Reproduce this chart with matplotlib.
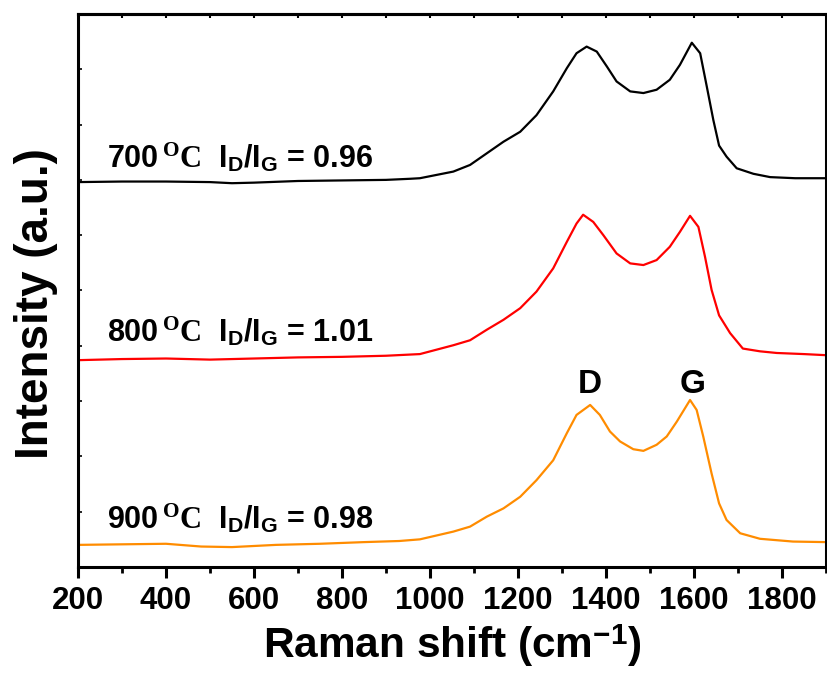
import matplotlib
matplotlib.use("Agg")
import matplotlib.pyplot as plt
from matplotlib.ticker import MultipleLocator

# ---- data ----
shift_700 = [200, 300, 400, 500, 550, 600, 700, 800, 900, 955, 977, 1053, 1091, 1129, 1167,
             1205, 1242, 1280, 1311, 1333, 1356, 1379, 1402, 1424, 1455, 1485, 1515, 1545,
             1568, 1595, 1614, 1629, 1644, 1657, 1674, 1697, 1735, 1773, 1830, 1900]
int_700 = [6.96, 6.97, 6.97, 6.96, 6.94, 6.95, 6.98, 6.99, 7.00, 7.02, 7.03, 7.15, 7.27, 7.48, 7.69,
           7.87, 8.17, 8.60, 9.02, 9.29, 9.41, 9.32, 9.05, 8.78, 8.60, 8.57, 8.63, 8.81,
           9.08, 9.48, 9.29, 8.69, 8.08, 7.62, 7.42, 7.21, 7.11, 7.05, 7.03, 7.03]

shift_800 = [200, 300, 400, 500, 600, 700, 800, 900, 977, 1053, 1091, 1129, 1167, 1205, 1242,
             1280, 1311, 1333, 1348, 1371, 1394, 1424, 1455, 1485, 1515, 1545, 1568, 1591,
             1610, 1625, 1640, 1657, 1682, 1711, 1750, 1788, 1850, 1900]
int_800 = [3.74, 3.76, 3.77, 3.75, 3.77, 3.79, 3.80, 3.82, 3.85, 4.01, 4.10, 4.29, 4.47, 4.68, 4.98,
           5.40, 5.88, 6.21, 6.37, 6.24, 6.00, 5.67, 5.49, 5.46, 5.55, 5.79, 6.06, 6.35,
           6.15, 5.61, 5.01, 4.55, 4.23, 3.95, 3.90, 3.87, 3.85, 3.83]

shift_900 = [200, 300, 400, 480, 550, 650, 750, 850, 930, 977, 1053, 1091, 1129, 1167, 1205,
             1242, 1280, 1311, 1333, 1364, 1386, 1409, 1432, 1462, 1485, 1515, 1538, 1561,
             1591, 1606, 1621, 1640, 1657, 1674, 1705, 1750, 1825, 1900]
int_900 = [0.40, 0.41, 0.42, 0.37, 0.36, 0.40, 0.42, 0.45, 0.47, 0.50, 0.64, 0.73, 0.91, 1.06, 1.27,
           1.57, 1.93, 2.42, 2.75, 2.93, 2.75, 2.45, 2.27, 2.13, 2.10, 2.21, 2.36, 2.63,
           3.02, 2.84, 2.36, 1.69, 1.15, 0.85, 0.61, 0.51, 0.46, 0.45]

temps = ["700", "800", "900"]
ratios = ["0.96", "1.01", "0.98"]
colors = ["#000000", "#FF0000", "#FF8C00"]
label_y = [7.23, 4.07, 0.705]
peak_names = ["D", "G"]
peak_pos = [1364, 1597]

# ---- style ----
plt.rcParams['font.family'] = ['Liberation Sans', 'DejaVu Sans']
plt.rcParams['font.weight'] = 'bold'
plt.rcParams['mathtext.fontset'] = 'custom'
plt.rcParams['mathtext.rm'] = 'Liberation Serif'
plt.rcParams['mathtext.bf'] = 'Liberation Sans:bold'
plt.rcParams['mathtext.sf'] = 'Liberation Sans'
plt.rcParams['mathtext.it'] = 'Liberation Serif:italic'

fig = plt.figure(figsize=(8.27, 6.75), dpi=100)
ax = fig.add_axes([0.0943, 0.16, 0.9045, 0.8193])

for xs, ys, c in zip([shift_700, shift_800, shift_900], [int_700, int_800, int_900], colors):
    ax.plot(xs, ys, color=c, lw=1.6, solid_joinstyle='round')

for t, r, c, yy in zip(temps, ratios, colors, label_y):
    s = (t + r"$\,^{\mathrm{O}}\mathrm{C}$" + "  I" + r"$_{\mathbf{D}}$" + "/I"
         + r"$_{\mathbf{G}}$" + " = " + r)
    ax.text(266, yy, s, fontsize=22, fontweight='bold', color='black',
            ha='left', va='baseline')

for name, px in zip(peak_names, peak_pos):
    ax.text(px, 3.15, name, fontsize=24, fontweight='bold', ha='center', va='baseline')

ax.set_xlim(200, 1900)
ax.set_ylim(0, 10)
ax.xaxis.set_major_locator(MultipleLocator(200))
ax.xaxis.set_minor_locator(MultipleLocator(100))
ax.yaxis.set_major_locator(MultipleLocator(1))
ax.tick_params(axis='x', which='major', direction='out', length=8, width=2.2,
               labelsize=22.5, pad=6, top=False)
ax.tick_params(axis='x', which='minor', direction='out', length=4, width=2.0, top=False)
ax.tick_params(axis='y', which='major', direction='in', length=3, width=1.2,
               labelleft=False, right=False)
for lab in ax.get_xticklabels():
    lab.set_fontweight('bold')

sec = ax.secondary_xaxis('top')
sec.set_xticks(list(range(300, 1900, 100)))
sec.tick_params(direction='in', length=3, width=1.5, labeltop=False)
sec.spines['top'].set_linewidth(2.2)

for sp in ax.spines.values():
    sp.set_linewidth(2.2)

ax.set_xlabel(r"Raman shift (cm$^{\mathbf{-1}}$)", fontsize=30.5, fontweight='bold')
ax.set_ylabel("Intensity (a.u.)", fontsize=33, fontweight='bold')
ax.xaxis.set_label_coords(0.5, -0.100)
ax.yaxis.set_label_coords(-0.027, 0.4765)

fig.savefig("out.png", dpi=100)
